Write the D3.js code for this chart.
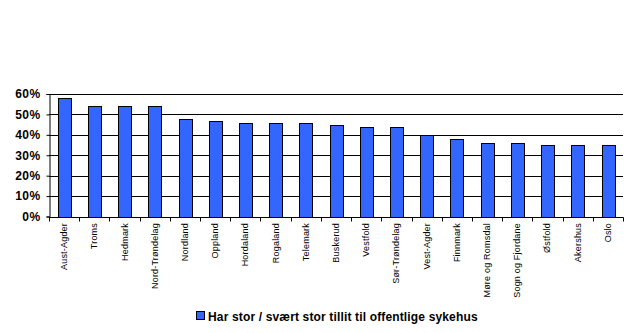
<!DOCTYPE html>
<html><head><meta charset="utf-8">
<script src="https://cdn.jsdelivr.net/npm/d3@7"></script>
<style>body{margin:0;background:#fff}svg{display:block}</style>
</head><body>
<svg id="c" width="638" height="333"></svg>
<script>
const categories = ["Aust-Agder","Troms","Hedmark","Nord-Trøndelag","Nordland","Oppland","Hordaland","Rogaland","Telemark","Buskerud","Vestfold","Sør-Trøndelag","Vest-Agder","Finnmark","Møre og Romsdal","Sogn og Fjordane","Østfold","Akershus","Oslo"];
const values = [58,54,54,54,48,47,46,46,46,45,44,44,40,38,36,36,35,35,35];
const yTicks = [0,10,20,30,40,50,60];
const seriesName = "Har stor / svært stor tillit til offentlige sykehus";

const svg = d3.select("#c");
const m = {l:49, r:623, t:94, b:216.5};
const x = d3.scaleBand().domain(categories).range([m.l, m.r]).paddingInner(0.58).paddingOuter(0.29);
const xb = d3.scaleBand().domain(categories).range([m.l, m.r]);
const y = d3.scaleLinear().domain([0,60]).range([m.b, m.t]);

// gridlines
svg.append("g").selectAll("line").data(yTicks.filter(d=>d>0)).join("line")
  .attr("x1", m.l).attr("x2", m.r).attr("y1", d=>Math.round(y(d))+0.5).attr("y2", d=>Math.round(y(d))+0.5)
  .attr("stroke","#000").attr("stroke-width",1);

// bars
svg.append("g").selectAll("rect").data(values).join("rect")
  .attr("x",(d,i)=>Math.round(x(categories[i]))+0.5)
  .attr("y",d=>Math.round(y(d))+0.5)
  .attr("width", Math.round(x.bandwidth()))
  .attr("height", d=>Math.round(y(0))-Math.round(y(d)))
  .attr("fill","#3366FF").attr("stroke","#000").attr("stroke-width",1);

// y axis
const ya = svg.append("g").attr("transform",`translate(${m.l+0.5},0)`)
  .call(d3.axisLeft(y).tickValues(yTicks).tickSize(3).tickFormat(d=>d+"%"));
ya.select(".domain").attr("stroke","#000");
ya.selectAll(".tick line").attr("stroke","#000");
ya.selectAll("text").attr("font-family","Liberation Sans, Arial, sans-serif").attr("font-size","12px").attr("font-weight","bold").attr("fill","#000").attr("x",-9).attr("letter-spacing","0.4px");

// x axis line and ticks at boundaries
const xa = svg.append("g");
xa.append("line").attr("x1",m.l).attr("x2",m.r+0.5).attr("y1",Math.round(y(0))+0.5).attr("y2",Math.round(y(0))+0.5).attr("stroke","#000");
const bounds = categories.map(c=>xb(c)).concat([m.r]);
xa.selectAll(".bt").data(bounds).join("line").attr("class","bt")
  .attr("x1",d=>Math.round(d)+0.5).attr("x2",d=>Math.round(d)+0.5)
  .attr("y1",Math.round(y(0))+0.5).attr("y2",Math.round(y(0))+4.5).attr("stroke","#000");
xa.selectAll("text").data(categories).join("text")
  .attr("transform",d=>`translate(${xb(d)+xb.bandwidth()/2+3},223) rotate(-90)`)
  .attr("text-anchor","end")
  .attr("font-family","Liberation Sans, Arial, sans-serif").attr("font-size","9px").attr("letter-spacing","0.2px").attr("fill","#000")
  .text(d=>d);

// legend
const lg = svg.append("g");
lg.append("rect").attr("x",196.5).attr("y",311.5).attr("width",8).attr("height",8).attr("fill","#3366FF").attr("stroke","#000");
lg.append("text").attr("x",208).attr("y",320.5).attr("font-family","Liberation Sans, Arial, sans-serif").attr("font-size","12px").attr("font-weight","bold").attr("letter-spacing","0.15px").attr("fill","#000").text(seriesName);
</script>
</body></html>
